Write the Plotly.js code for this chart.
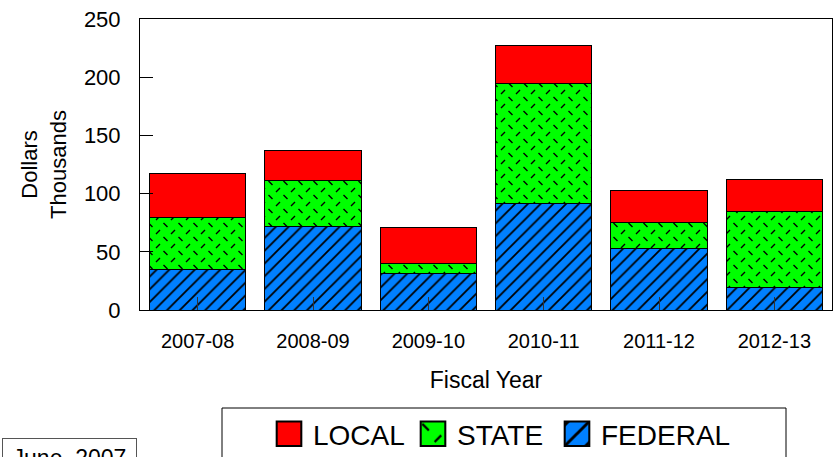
<!DOCTYPE html>
<html>
<head>
<meta charset="utf-8">
<script src="https://cdn.plot.ly/plotly-3.0.1.min.js"></script>
<style>html,body{margin:0;padding:0;background:#fff;}#chart{width:836px;height:457px;}</style>
</head>
<body>
<div id="chart"></div>
<script>
var years = ['2007-08', '2008-09', '2009-10', '2010-11', '2011-12', '2012-13'];
var federal = [34.4, 71.4, 31.6, 91.8, 53.1, 19.5];
var state = [45.0, 39.9, 8.6, 103.2, 22.4, 65.1];
var local = [37.6, 25.7, 30.6, 32.5, 27.5, 27.9];
var seriesNames = ['FEDERAL', 'STATE', 'LOCAL'];
var yTicks = [0, 50, 100, 150, 200, 250];

var FONT = 'Arial, "Liberation Sans", sans-serif';
var W = 836, H = 457;
var L = 140, R = 4, T = 19, B = 147;
var pw = W - L - R, ph = H - T - B;
function px(x) { return (x - L) / pw; }
function py(y) { return (H - B - y) / ph; }

var traces = [
  {type: 'bar', name: seriesNames[0], x: years, y: federal,
   marker: {color: '#0080FF', line: {color: '#000', width: 1},
            pattern: {shape: '/', fgcolor: '#000', bgcolor: '#0080FF', size: 9, solidity: 0.2}}},
  {type: 'bar', name: seriesNames[1], x: years, y: state,
   marker: {color: '#00FF00', line: {color: '#000', width: 1},
            pattern: {shape: 'x', fgcolor: '#000', bgcolor: '#00FF00', size: 14, solidity: 0.08}}},
  {type: 'bar', name: seriesNames[2], x: years, y: local,
   marker: {color: '#FF0000', line: {color: '#000', width: 1}}}
];

var layout = {
  width: W, height: H,
  margin: {l: L, r: R, t: T, b: B, autoexpand: false},
  paper_bgcolor: '#fff', plot_bgcolor: '#fff',
  barmode: 'stack', bargap: 0.167,
  font: {family: FONT, color: '#000'},
  showlegend: true,
  legend: {orientation: 'h', traceorder: 'reversed', x: px(269), xanchor: 'left',
           y: py(409), yanchor: 'top', font: {size: 28, family: FONT},
           entrywidth: 99, entrywidthmode: 'pixels',
           bgcolor: 'rgba(0,0,0,0)', borderwidth: 0},
  xaxis: {type: 'category', showline: true, mirror: true, linecolor: '#000', linewidth: 1,
          ticks: 'inside', ticklen: 13, tickcolor: '#333', tickwidth: 1, layer: 'above traces',
          tickfont: {size: 20, family: FONT}, ticklabelstandoff: 13, automargin: false,
          title: {text: 'Fiscal Year', font: {size: 23, family: FONT}, standoff: 20},
          showgrid: false, zeroline: false},
  yaxis: {range: [0, 250], tickvals: yTicks, showline: true, mirror: true, linecolor: '#000', linewidth: 1,
          ticks: 'inside', ticklen: 13, tickcolor: '#000', tickwidth: 1, automargin: false,
          tickfont: {size: 22, family: FONT}, ticklabelstandoff: 14,
          title: {text: 'Dollars<br>Thousands', font: {size: 22, family: FONT}, standoff: 11},
          showgrid: false, zeroline: false},
  shapes: [
    {type: 'rect', xref: 'paper', yref: 'paper', x0: px(222), x1: px(786), y0: py(475), y1: py(408),
     line: {color: '#000', width: 1}, fillcolor: 'rgba(0,0,0,0)'}
  ],
  annotations: [
    {xref: 'paper', yref: 'paper', x: px(2), y: py(438), xanchor: 'left', yanchor: 'top',
     text: 'June, 2007', showarrow: false, font: {size: 23, family: FONT, color: '#000'},
     bordercolor: '#555', borderwidth: 1, borderpad: 6, width: 121, align: 'center'}
  ]
};

function restyleStatePattern() {
  document.querySelectorAll('pattern').forEach(function (pat) {
    var rect = pat.querySelector('rect');
    var path = pat.querySelector('path');
    if (!rect || !path) return;
    var f = (rect.getAttribute('fill') || '') + ' ' + (rect.style.fill || '');
    if (!/0,\s*255,\s*0|#00ff00|#0f0\b/i.test(f)) return;
    pat.setAttribute('width', 15);
    pat.setAttribute('height', 14);
    rect.setAttribute('width', 15);
    rect.setAttribute('height', 14);
    path.setAttribute('d', 'M1,5L5,1M8.5,8L12.5,12');
    path.style.strokeWidth = '1.4px';
    path.style.stroke = '#000';
    path.style.opacity = '1';
  });
}

Plotly.newPlot('chart', traces, layout, {displayModeBar: false, staticPlot: true}).then(function () {
  document.querySelectorAll('.legend [clip-path]').forEach(function (e) {
    e.removeAttribute('clip-path');
  });
  document.querySelectorAll('.legend .legendpoints path').forEach(function (p) {
    var t = p.getAttribute('transform') || '';
    p.setAttribute('transform', t + ' scale(2.05)');
  });
  document.querySelectorAll('.legend text.legendtext').forEach(function (t) {
    var x = parseFloat(t.getAttribute('x')) || 40;
    t.setAttribute('x', x + 4);
  });
  restyleStatePattern();
});
</script>
</body>
</html>
